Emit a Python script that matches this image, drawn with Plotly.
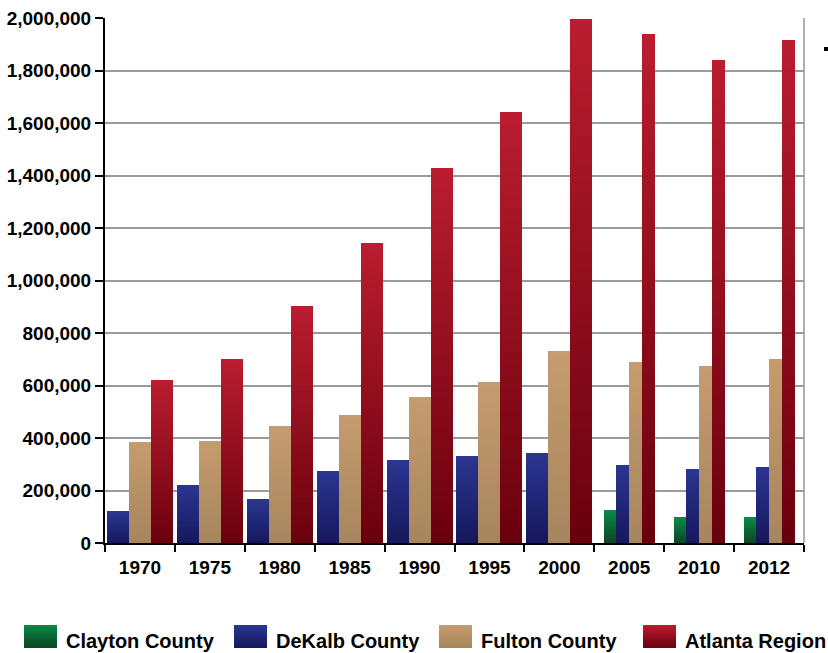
import plotly.graph_objects as go

# ---------------- data ----------------
years = ["1970", "1975", "1980", "1985", "1990", "1995", "2000", "2005", "2010", "2012"]
clayton = [None, None, None, None, None, None, None, 123000, 96000, 96000]
dekalb = [119000, 222000, 165000, 275000, 317000, 333000, 344000, 298000, 283000, 291000]
fulton = [386000, 387000, 447000, 489000, 557000, 614000, 733000, 691000, 675000, 702000]
atlanta = [622000, 702000, 904000, 1144000, 1430000, 1643000, 1995000, 1940000, 1841000, 1917000]
series_names = ["Clayton County", "DeKalb County", "Fulton County", "Atlanta Region"]
y_ticks = [0, 200000, 400000, 600000, 800000, 1000000, 1200000, 1400000, 1600000, 1800000, 2000000]

# ---------------- styles ----------------
top_colors = [(8, 138, 68), (43, 54, 146), (197, 156, 111), (186, 29, 47)]
bottom_colors = [(12, 68, 38), (22, 24, 92), (167, 133, 93), (106, 0, 13)]
FONT = "Liberation Sans, Arial, sans-serif"
N_SEG = 36
GROUP_FILL = {1: 0.5, 2: 0.7, 3: 0.945, 4: 0.73}

W, H = 828, 653
PL, PR, PT, PB = 105, 804, 18, 543  # plot area in pixels


def mix(c0, c1, t):
    return "rgb(%d,%d,%d)" % tuple(round(a + (b - a) * t) for a, b in zip(c0, c1))


series = [clayton, dekalb, fulton, atlanta]

# per-group bar placement (groups re-flow when a series is missing)
offsets = [[0.0] * len(years) for _ in series]
widths = [[0.1] * len(years) for _ in series]
for j in range(len(years)):
    present = [i for i, s in enumerate(series) if s[j] is not None]
    n = len(present)
    f = GROUP_FILL[n]
    w = f / n
    for k, i in enumerate(present):
        offsets[i][j] = -f / 2 + k * w
        widths[i][j] = w

fig = go.Figure()
for i, s in enumerate(series):
    for k in range(N_SEG):
        t = (k + 0.5) / N_SEG
        base = [v * k / N_SEG if v is not None else None for v in s]
        hgt = [v / N_SEG if v is not None else None for v in s]
        fig.add_trace(go.Bar(
            x=years, y=hgt, base=base,
            offset=offsets[i], width=widths[i],
            marker=dict(color=mix(bottom_colors[i], top_colors[i], t), line=dict(width=0)),
            name=series_names[i], showlegend=False, hoverinfo="skip",
        ))


def px_x(p):
    return (p - PL) / (PR - PL)


def px_y(p):
    return (PB - p) / (PB - PT)


shapes = []
annotations = []
# right frame line
shapes.append(dict(type="line", xref="paper", yref="paper", x0=1, x1=1, y0=0, y1=1,
                   line=dict(color="#b0b0b0", width=2), layer="below"))
# custom legend with gradient swatches
leg_x = [24, 234, 439, 643]
sw_w, sw_top, sw_bot = 33, 625, 648
bands = 12
for i, name in enumerate(series_names):
    for b in range(bands):
        y0 = sw_top + (sw_bot - sw_top) * b / bands
        y1 = sw_top + (sw_bot - sw_top) * (b + 1) / bands
        if b < bands - 1:
            y1 += 1.0
        t = 1 - (b + 0.5) / bands
        shapes.append(dict(type="rect", xref="paper", yref="paper",
                           x0=px_x(leg_x[i]), x1=px_x(leg_x[i] + sw_w),
                           y0=px_y(y1), y1=px_y(y0),
                           fillcolor=mix(bottom_colors[i], top_colors[i], t),
                           line=dict(width=0)))
    annotations.append(dict(xref="paper", yref="paper", x=px_x(leg_x[i] + sw_w + 7),
                            y=px_y(640.5), text=name, showarrow=False,
                            xanchor="left", yanchor="middle",
                            font=dict(family=FONT, size=20, color="black", weight="bold")))
# small black mark at top right
shapes.append(dict(type="rect", xref="paper", yref="paper",
                   x0=px_x(824), x1=px_x(828), y0=px_y(51), y1=px_y(47),
                   fillcolor="black", line=dict(width=0)))

fig.update_layout(
    width=W, height=H,
    margin=dict(l=PL, r=W - PR, t=PT, b=H - PB, pad=0, autoexpand=False),
    paper_bgcolor="white", plot_bgcolor="white",
    barmode="overlay", bargap=0, bargroupgap=0,
    showlegend=False,
    font=dict(family=FONT, color="black"),
    shapes=shapes, annotations=annotations,
    xaxis=dict(
        type="category", categoryorder="array", categoryarray=years,
        automargin=False,
        showline=True, linecolor="black", linewidth=2,
        ticks="outside", tickson="boundaries", ticklen=7, tickwidth=2, tickcolor="black",
        ticklabelstandoff=6,
        tickfont=dict(family=FONT, size=19, color="black", weight="bold"),
        showgrid=False, zeroline=False,
    ),
    yaxis=dict(
        range=[0, 2000000], tickvals=y_ticks, tickformat=",d",
        automargin=False,
        showline=True, linecolor="black", linewidth=2,
        ticks="outside", ticklen=8, tickwidth=2, tickcolor="black",
        tickfont=dict(family=FONT, size=19, color="black", weight="bold"),
        showgrid=True, gridcolor="#9a9a9a", gridwidth=1.5, zeroline=False,
    ),
)

fig.write_html("out.html")
